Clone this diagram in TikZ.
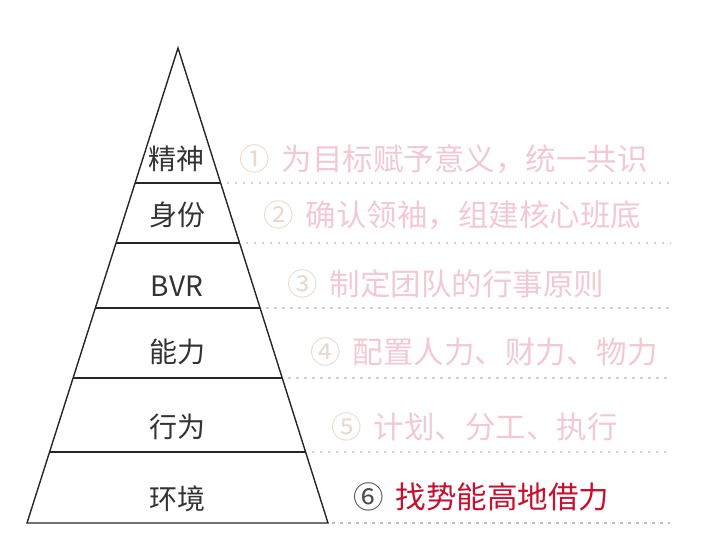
\documentclass[tikz,border=0pt]{standalone}
\usepackage{fontspec}
\setmainfont{Noto Sans CJK SC}
\usetikzlibrary{calc}
\definecolor{softpink}{HTML}{F2C9D2}
\definecolor{softnum}{HTML}{E6D9D0}
\definecolor{deepred}{HTML}{C8102E}
\tikzset{
  level/.style={font=\fontsize{28}{28}\selectfont, text=black!80},
  goal/.style={anchor=west, font=\fontsize{30.5}{30.5}\selectfont, text=softpink},
  guide/.style={gray!35, line width=2pt, dash pattern=on 2.5pt off 5.5pt}
}
\begin{document}
\begin{tikzpicture}[x=1pt,y=-1pt]
    \useasboundingbox (0,0) rectangle (720,553);
    % pyramid outline
    \coordinate (apex) at (178,48);
    \coordinate (bl) at (27,523);
    \coordinate (br) at (328,523);
    \draw[line width=1.4pt, black!85] (apex) -- (bl) -- (br) -- cycle;

    % tiers and guide lines
    \foreach \y/\n in {183/a, 243/b, 308/c, 378/d, 452/e} {
        \coordinate (l\n) at ({178-0.3179*(\y-48)}, \y);
        \coordinate (r\n) at ({178+0.3158*(\y-48)}, \y);
        \draw[line width=1.4pt, black!85] (l\n) -- (r\n);
        \draw[guide] ($(r\n)+(6,0)$) -- (670,\y);
    }
    \draw[guide, gray!50] ($(br)+(4,0)$) -- (670,523);

    % tier names
    \node[level] (jingshen) at (176,159) {精神};
    \node[level] (shenfen) at (177,215) {身份};
    \node[level] (bvr) at (177,286) {BVR};
    \node[level] (nengli) at (177,352) {能力};
    \node[level] (xingwei) at (177,427) {行为};
    \node[level] (huanjing) at (177,499) {环境};

    % goals
    \node[goal] (g1) at (236,159) {{\color{softnum}①}\, 为目标赋予意义，统一共识};
    \node[goal] (g2) at (260,215) {{\color{softnum}②}\, 确认领袖，组建核心班底};
    \node[goal] (g3) at (284,284) {{\color{softnum}③}\, 制定团队的行事原则};
    \node[goal] (g4) at (307,352) {{\color{softnum}④}\, 配置人力、财力、物力};
    \node[goal] (g5) at (328,427) {{\color{softnum}⑤}\, 计划、分工、执行};
    \node[goal, text=deepred] (g6) at (350,497) {{\color{black!70}⑥}\, 找势能高地借力};
\end{tikzpicture}
\end{document}
